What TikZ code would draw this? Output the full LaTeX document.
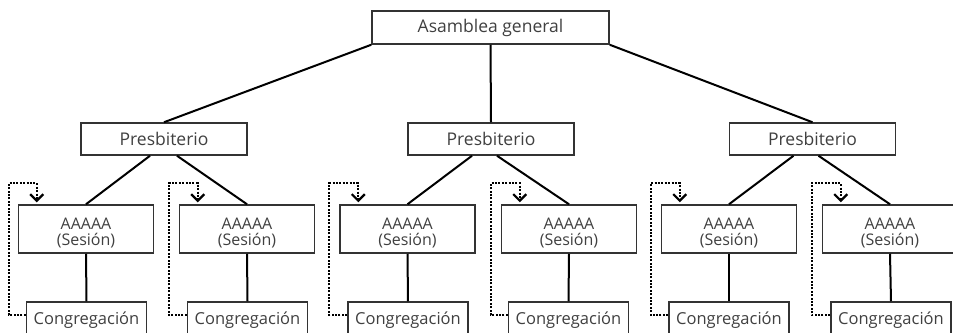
\documentclass[tikz,border=0pt]{standalone}
\usepackage{fontspec}
\setmainfont{Open Sans}
\usetikzlibrary{arrows.meta}
\newcommand{\baja}{\rule{0pt}{20pt}}

\tikzset{
  caja/.style={draw=black!80, line width=1.5pt, fill=white, text=black!75,
    font=\fontsize{17.5}{18}\selectfont, align=center, inner sep=0pt},
  cajaP/.style={caja, minimum width=166pt, minimum height=32pt},
  cajaS/.style={caja, minimum width=135pt, minimum height=48pt,
    font=\fontsize{16}{16.5}\selectfont},
  cajaC/.style={caja, minimum width=120pt, minimum height=36pt,
    font=\fontsize{16.5}{17}\selectfont},
  linea/.style={line width=2pt},
  retro/.style={line width=2.4pt, dash pattern=on 2pt off 1.4pt,
    -{Straight Barb[length=6.5pt,width=13pt,line width=2.2pt]}, shorten >=2pt}
}

\begin{document}
\begin{tikzpicture}[x=1pt,y=-1pt]
\useasboundingbox[fill=white] (0,0) rectangle (953,332);
\clip (0,0) rectangle (953,332);

\node[caja, minimum width=237pt, minimum height=33pt] (asam) at (490.5,27.5) {Asamblea general};

\node[cajaP] (p1) at (164,139) {Presbiterio};
\node[cajaP] (p2) at (491,139) {Presbiterio};
\node[cajaP] (p3) at (812.5,139) {Presbiterio};

\node[cajaS] (s1) at (86,229) {\baja AAAAA\\(Sesión)};
\node[cajaS] (s2) at (247,229) {\baja AAAAA\\(Sesión)};
\node[cajaS] (s3) at (407.5,229) {\baja AAAAA\\(Sesión)};
\node[cajaS] (s4) at (569,229) {\baja AAAAA\\(Sesión)};
\node[cajaS] (s5) at (729,229) {\baja AAAAA\\(Sesión)};
\node[cajaS] (s6) at (890,229) {\baja AAAAA\\(Sesión)};

\node[cajaC] (c1) at (86.5,320) {Congregación};
\node[cajaC] (c2) at (247.5,320) {Congregación};
\node[cajaC] (c3) at (408,320) {Congregación};
\node[cajaC] (c4) at (568.5,320) {Congregación};
\node[cajaC] (c5) at (729,320) {Congregación};
\node[cajaC] (c6) at (891,320) {Congregación};

% asamblea -> presbiterios
\draw[linea] (asam.south west)--(p1.north);
\draw[linea] (asam.south)--(p2.north);
\draw[linea] (asam.south east)--(p3.north);

% presbiterios -> sesiones
\draw[linea] ([xshift=-14pt]p1.south)--(s1.north);
\draw[linea] ([xshift=13pt]p1.south)--(s2.north);
\draw[linea] ([xshift=-19pt]p2.south)--(s3.north);
\draw[linea] ([xshift=6pt]p2.south)--(s4.north);
\draw[linea] ([xshift=-19pt]p3.south)--(s5.north);
\draw[linea] ([xshift=6pt]p3.south)--(s6.north);

% sesiones -> congregaciones
\draw[linea] (s1.south)--(c1.north);
\draw[linea] (s2.south)--(c2.north);
\draw[linea] (s3.south)--(c3.north);
\draw[linea] (s4.south)--(c4.north);
\draw[linea] (s5.south)--(c5.north);
\draw[linea] (s6.south)--(c6.north);

% congregacion elige sesion
\draw[retro] ([yshift=5pt]c1.west) -| ([xshift=-9pt,yshift=21pt]s1.north west) -| ([xshift=19pt]s1.north west);
\draw[retro] ([yshift=5pt]c2.west) -| ([xshift=-10pt,yshift=21pt]s2.north west) -| ([xshift=19pt]s2.north west);
\draw[retro] ([yshift=5pt]c3.west) -| ([xshift=-10pt,yshift=21pt]s3.north west) -| ([xshift=19pt]s3.north west);
\draw[retro] ([yshift=5pt]c4.west) -| ([xshift=-10pt,yshift=21pt]s4.north west) -| ([xshift=19pt]s4.north west);
\draw[retro] ([yshift=5pt]c5.west) -| ([xshift=-10pt,yshift=21pt]s5.north west) -| ([xshift=19pt]s5.north west);
\draw[retro] ([yshift=5pt]c6.west) -| ([xshift=-10pt,yshift=21pt]s6.north west) -| ([xshift=19pt]s6.north west);

\end{tikzpicture}
\end{document}
